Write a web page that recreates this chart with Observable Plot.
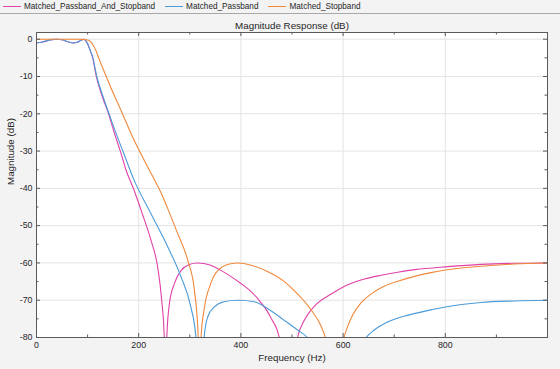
<!DOCTYPE html>
<html><head><meta charset="utf-8">
<script src="https://cdn.jsdelivr.net/npm/d3@7"></script>
<script src="https://cdn.jsdelivr.net/npm/@observablehq/plot@0.6"></script>
<style>
html,body{margin:0;padding:0;background:#f3f3f3;width:560px;height:369px;overflow:hidden;font-family:"Liberation Sans",Arial,sans-serif;}
#legend{height:13px;border-bottom:1px solid #a8a8a8;display:flex;align-items:center;font-size:8.2px;color:#262626;}
.sw{width:18px;height:0;border-top:1px solid;margin-right:3px;}
#chart svg{display:block;}
</style></head>
<body>
<div id="legend"></div>
<div id="chart"></div>
<script>
// Series names and colours
const seriesNames = ["Matched_Passband_And_Stopband", "Matched_Passband", "Matched_Stopband"];
const seriesColors = ["#e042a8", "#4b9bd8", "#f0883a"];

// Matched_Passband_And_Stopband (frequency Hz, magnitude dB)
const pbsFreq = [0,10,20,30,40,50,60,72,80,87,93,97,100,105,110,117,129,141,152,164,175,191,207,224,237,245,250,252,255,260,270,283,299,315,330,341,361,380,400,420,433,449,459,475,493,511,524,544,576,602,642,675,707,740,805,870,935,1000];
const pbsDb   = [-1,-0.8,-0.45,-0.12,0,-0.15,-0.6,-1,-0.8,-0.3,0,-0.5,-1.2,-3,-5,-10,-15.5,-20,-25,-30,-35,-40.5,-46.8,-53.9,-61,-70,-80,-100,-80,-71,-65.5,-62,-60.4,-60,-60.2,-60.6,-62,-63.6,-65.5,-67.7,-69.6,-72.4,-74.8,-80,-100,-80,-75.4,-71.6,-68.4,-66.3,-64.3,-63.3,-62.5,-61.8,-61,-60.4,-60.1,-60];

// Matched_Passband
const pbFreq = [0,10,20,30,40,50,60,72,80,87,93,97,100,105,110,118,130,142,155,169,191,224,257,283,302,312,320,328,335,348,367,394,426,452,485,511,530,588,645,661,688,727,772,800,870,935,1000];
const pbDb   = [-1,-0.8,-0.45,-0.12,0,-0.15,-0.6,-1,-0.8,-0.3,0,-0.5,-1.2,-3,-4.8,-10,-15.3,-20,-25,-30,-37.8,-46.8,-55.7,-63.8,-71.8,-80,-100,-80,-74.5,-71.8,-70.4,-70,-70.4,-72.2,-75.4,-78,-80,-100,-80,-78,-75.8,-74,-72.6,-71.8,-70.6,-70.2,-70];

// Matched_Stopband
const sbFreq = [0,20,40,60,80,90,102,113,126,145,165,188,211,230,243,257,276,296,309,316.5,319,322,328,341,361,380,394,420,452,485,505,537,557,565,584,602,609,619,635,655,681,707,740,772,800,870,935,1000];
const sbDb   = [0,0,0,0,0,-0.05,-0.3,-2.1,-6.5,-12.8,-19,-26.2,-32.5,-37.5,-41,-45.5,-52,-59.3,-67.3,-80,-100,-80,-72.5,-65.5,-61.3,-60.2,-60,-60.6,-62.3,-65,-67.5,-72.5,-77,-80,-100,-80,-77,-73.9,-70.7,-68.3,-66.2,-64.9,-63.6,-62.6,-61.9,-60.9,-60.3,-60];

// Axis ticks
const xMajor = [0,200,400,600,800];
const xMinor = [100,300,500,700,900];
const yMajor = [0,-10,-20,-30,-40,-50,-60,-70,-80];
const yMinor = [-5,-15,-25,-35,-45,-55,-65,-75];
const xGrid = [200,400,600,800];
const yGrid = [0,-10,-20,-30,-40,-50,-60,-70];

const toRows = (fs, ds) => fs.map((f, i) => ({f, db: ds[i]}));
const seriesRows = [toRows(pbsFreq, pbsDb), toRows(pbFreq, pbDb), toRows(sbFreq, sbDb)];

// legend
const leg = document.getElementById("legend");
seriesNames.forEach((n, i) => {
  const sw = document.createElement("span");
  sw.className = "sw";
  sw.style.borderTopColor = seriesColors[i];
  sw.style.marginLeft = i === 0 ? "3px" : "10px";
  const t = document.createElement("span");
  t.textContent = n;
  leg.appendChild(sw); leg.appendChild(t);
});

const W = 560, H = 355, mL = 36, mR = 13, mT = 18, mB = 32;
const iw = W - mL - mR, ih = H - mT - mB;
const axisC = "#5a5a5a";

const marks = [
  Plot.frame({fill: "white", stroke: null}),
  Plot.ruleX(xGrid, {x: d => d, stroke: "#e4e4e4"}),
  Plot.ruleY(yGrid, {y: d => d, stroke: "#e4e4e4"}),
];
seriesRows.forEach((rows, i) => {
  marks.push(Plot.line(rows, {x: "f", y: "db", stroke: seriesColors[i], strokeWidth: 1.1, curve: "monotone-x", clip: true}));
});
marks.push(
  Plot.tickX(xMajor, {x: d => d, insetTop: ih - 4, stroke: axisC}),
  Plot.tickX(xMajor, {x: d => d, insetBottom: ih - 4, stroke: axisC}),
  Plot.tickX(xMinor, {x: d => d, insetTop: ih - 2.5, stroke: axisC}),
  Plot.tickX(xMinor, {x: d => d, insetBottom: ih - 2.5, stroke: axisC}),
  Plot.tickY(yMajor, {y: d => d, insetRight: iw - 4, stroke: axisC}),
  Plot.tickY(yMajor, {y: d => d, insetLeft: iw - 4, stroke: axisC}),
  Plot.tickY(yMinor, {y: d => d, insetRight: iw - 2.5, stroke: axisC}),
  Plot.tickY(yMinor, {y: d => d, insetLeft: iw - 2.5, stroke: axisC}),
  Plot.frame({stroke: axisC}),
  Plot.text(["Magnitude Response (dB)"], {text: d => d, frameAnchor: "top", lineAnchor: "middle", dy: -7, fontSize: 9.8, fill: "#262626"}),
  Plot.text(["Frequency (Hz)"], {text: d => d, frameAnchor: "bottom", lineAnchor: "middle", dy: 20, fontSize: 9.8, fill: "#262626"}),
  Plot.text(["Magnitude (dB)"], {text: d => d, frameAnchor: "left", lineAnchor: "middle", dx: -26, rotate: -90, fontSize: 9.8, fill: "#262626"})
);

const chart = Plot.plot({
  width: W, height: H,
  marginLeft: mL, marginRight: mR, marginTop: mT, marginBottom: mB,
  style: {background: "transparent", fontFamily: "Liberation Sans, Arial, sans-serif", fontSize: "8.8px", color: "#262626"},
  x: {domain: [0, 1000], ticks: xMajor, tickSize: 0, tickPadding: 4, label: null, tickFormat: d => String(d)},
  y: {domain: [-80, 1.8], ticks: yMajor, tickSize: 0, tickPadding: 4, label: null, tickFormat: d => String(d)},
  marks
});
document.getElementById("chart").appendChild(chart);
</script>
</body></html>
